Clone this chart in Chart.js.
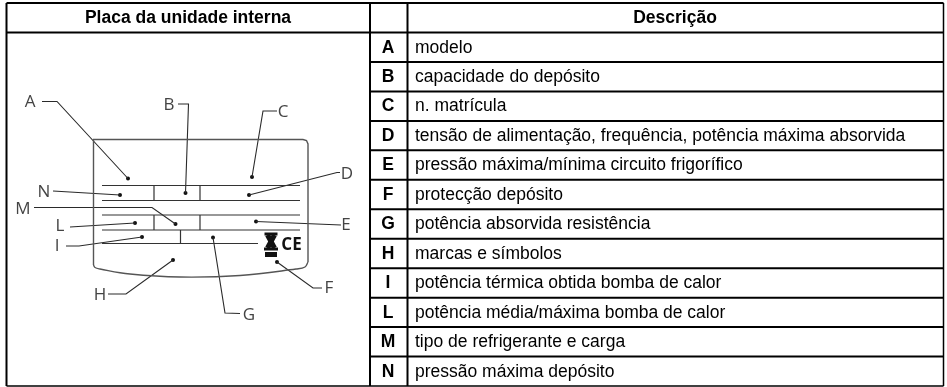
<!DOCTYPE html>
<html>
<head>
<meta charset="utf-8">
<style>
  html, body { margin: 0; padding: 0; background: #fff; }
  canvas { display: block; }
</style>
<script src="https://cdn.jsdelivr.net/npm/chart.js@4"></script>
</head>
<body>
<canvas id="chart" width="947" height="387"></canvas>
<script>
const headers = ['Placa da unidade interna', 'Descrição'];
const letters = ['A', 'B', 'C', 'D', 'E', 'F', 'G', 'H', 'I', 'L', 'M', 'N'];
const descriptions = [
  'modelo',
  'capacidade do depósito',
  'n. matrícula',
  'tensão de alimentação, frequência, potência máxima absorvida',
  'pressão máxima/mínima circuito frigorífico',
  'protecção depósito',
  'potência absorvida resistência',
  'marcas e símbolos',
  'potência térmica obtida bomba de calor',
  'potência média/máxima bomba de calor',
  'tipo de refrigerante e carga',
  'pressão máxima depósito',
];

// where each diagram letter sits, and the path of its leader (ends on the dot)
const calloutLabels = [
  ['A', 30, 102], ['B', 169, 105], ['C', 283, 112], ['D', 347, 174],
  ['E', 346, 225], ['F', 329, 288], ['G', 249, 315], ['H', 100, 295],
  ['I', 57, 246], ['L', 60, 226], ['M', 23, 209], ['N', 44, 192],
];
const leaders = [
  [[42, 101.5], [57, 101.5], [128, 178.5]],
  [[178, 104], [188.5, 104], [185.5, 193]],
  [[277, 111], [263, 111], [252, 177]],
  [[340, 172.5], [337, 172.5], [249, 195]],
  [[341, 225], [256, 221.5]],
  [[322, 288], [313, 288], [277, 262]],
  [[240, 313.5], [225, 313], [213, 237.5]],
  [[108, 294], [126, 294], [173, 260]],
  [[66, 246], [79, 246], [142, 237]],
  [[70, 227], [135, 223]],
  [[34, 207.5], [152, 207.5], [175.5, 224]],
  [[53, 191], [120, 195]],
];

// nameplate drawing
const plateOutline = [
  [93.5, 265], [93.5, 139.5], [303, 139.5], [306.5, 140.5], [308, 144], [308, 262],
];
const plateBottom = [
  [308, 262], [305, 267], [296, 269], [240, 275.5], [180, 277], [130, 274], [100, 269], [95, 267.5], [93.5, 265],
];
const plateLines = [
  [[102, 185.5], [300, 185.5]],
  [[102, 200.5], [300, 200.5]],
  [[102, 215], [300, 215]],
  [[102, 230], [300, 230]],
  [[102, 243.5], [258, 243.5]],
  [[154, 185.5], [154, 200.5]],
  [[200, 185.5], [200, 200.5]],
  [[154, 215], [154, 230]],
  [[200, 215], [200, 230]],
  [[180.5, 230], [180.5, 243.5]],
];
const symbolStrokes = [
  [[[264.5, 234], [277.5, 234]], 3],
  [[[267.5, 235], [274.5, 248]], 5],
  [[[274.5, 235], [267.5, 248]], 5],
  [[[264, 249], [278, 249]], 3],
  [[[265, 254.5], [277, 254.5]], 5],
];

// table rules
const tableLeft = 6.5;
const tableRight = 943.5;
const tableTop = 3;
const tableBottom = 386;
const headerBottom = 32.5;
const rowHeight = (tableBottom - headerBottom) / letters.length;
const splitX = 370;
const letterColX = 407.5;

function toPoints(path) {
  return path.map(([x, y]) => ({ x, y }));
}

function lineDataset(path, color, width, extra) {
  return {
    type: 'line',
    data: toPoints(path),
    borderColor: color,
    borderWidth: width,
    pointRadius: 0,
    fill: false,
    ...extra,
  };
}

const datasets = [];
plateLines.forEach((path) => datasets.push(lineDataset(path, '#333', 1.2)));
datasets.push(lineDataset(plateOutline, '#555', 1.4));
datasets.push(lineDataset(plateBottom, '#555', 1.4, { tension: 0.4 }));
leaders.forEach((path) => datasets.push(lineDataset(path, '#2a2a2a', 1.1)));
datasets.push({
  type: 'scatter',
  data: leaders.map((path) => ({ x: path[path.length - 1][0], y: path[path.length - 1][1] })),
  pointRadius: 2,
  backgroundColor: '#111',
  borderWidth: 0,
});
symbolStrokes.forEach(([path, width]) => datasets.push(lineDataset(path, '#111', width)));

// table grid
const ruleColor = '#000';
datasets.push(lineDataset([[tableLeft, tableTop], [tableRight, tableTop]], ruleColor, 2));
datasets.push(lineDataset([[tableLeft, tableBottom], [tableRight, tableBottom]], ruleColor, 1.5));
datasets.push(lineDataset([[tableLeft, tableTop], [tableLeft, tableBottom]], ruleColor, 2));
datasets.push(lineDataset([[tableRight, tableTop], [tableRight, tableBottom]], ruleColor, 1.5));
datasets.push(lineDataset([[splitX, tableTop], [splitX, tableBottom]], ruleColor, 2));
datasets.push(lineDataset([[letterColX, tableTop], [letterColX, tableBottom]], ruleColor, 2));
datasets.push(lineDataset([[tableLeft, headerBottom], [tableRight, headerBottom]], ruleColor, 2));
letters.forEach((_, i) => {
  if (i === 0) return;
  const y = headerBottom + i * rowHeight;
  datasets.push(lineDataset([[splitX, y], [tableRight, y]], ruleColor, 2));
});

const textPlugin = {
  id: 'tableText',
  afterDatasetsDraw(chart) {
    const { ctx, scales } = chart;
    const put = (text, x, y, font, color, align) => {
      ctx.font = font;
      ctx.fillStyle = color;
      ctx.textAlign = align;
      ctx.textBaseline = 'middle';
      ctx.fillText(text, scales.x.getPixelForValue(x), scales.y.getPixelForValue(y));
    };
    ctx.save();
    const bodyFont = '17.5px "Liberation Sans", Arial, sans-serif';
    const boldFont = 'bold 17.5px "Liberation Sans", Arial, sans-serif';
    put(headers[0], 188, 18, boldFont, '#000', 'center');
    put(headers[1], 675, 18, boldFont, '#000', 'center');
    letters.forEach((letter, i) => {
      const y = headerBottom + (i + 0.5) * rowHeight + 0.5;
      put(letter, 388, y, boldFont, '#000', 'center');
      put(descriptions[i], 415, y, bodyFont, '#000', 'left');
    });
    calloutLabels.forEach(([label, x, y]) => {
      put(label, x, y, '17px "Open Sans", sans-serif', '#444', 'center');
    });
    put('CE', 291.5, 245, 'bold 17px "Open Sans", sans-serif', '#111', 'center');
    ctx.restore();
  },
};

new Chart(document.getElementById('chart'), {
  type: 'scatter',
  data: { datasets },
  options: {
    responsive: false,
    animation: false,
    layout: { padding: 0, autoPadding: false },
    plugins: { legend: { display: false }, tooltip: { enabled: false } },
    scales: {
      x: { type: 'linear', min: 0, max: 947, display: false },
      y: { type: 'linear', min: 0, max: 387, reverse: true, display: false },
    },
  },
  plugins: [textPlugin],
});
</script>
</body>
</html>
